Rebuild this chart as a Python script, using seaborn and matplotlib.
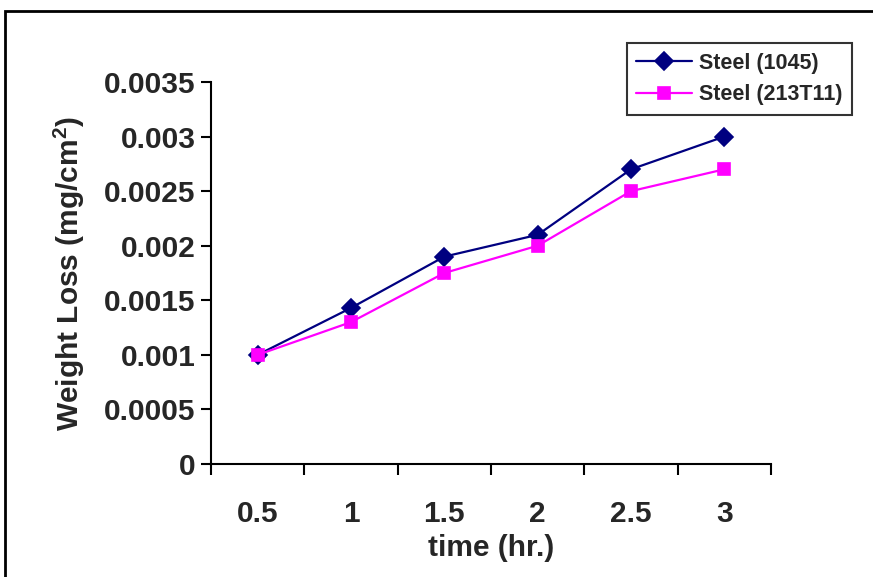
import pandas as pd
import numpy as np
import seaborn as sns
import matplotlib.pyplot as plt
from matplotlib.patches import Rectangle

# values
times = ["0.5", "1", "1.5", "2", "2.5", "3"]
steel_1045 = [0.0010, 0.00143, 0.0019, 0.0021, 0.0027, 0.0030]
steel_213t11 = [0.0010, 0.0013, 0.00175, 0.0020, 0.0025, 0.0027]
series_names = ["Steel (1045)", "Steel (213T11)"]
colors = ["#000080", "#FF00FF"]
markers = ["D", "s"]


def tidy_data():
    df = pd.DataFrame({"time": times,
                       series_names[0]: steel_1045,
                       series_names[1]: steel_213t11})
    return pd.melt(df, id_vars="time", var_name="Steel", value_name="Weight Loss")


sns.set_style("white")
plt.rcParams["font.family"] = ["Liberation Sans", "DejaVu Sans"]
plt.rcParams["font.weight"] = "bold"
plt.rcParams["mathtext.fontset"] = "custom"
plt.rcParams["mathtext.bf"] = "Liberation Sans:bold"
plt.rcParams["mathtext.rm"] = "Liberation Sans:bold"

fig = plt.figure(figsize=(8.73, 5.77), dpi=100)
ax = fig.add_axes([211 / 873, 1 - 464 / 577, 560 / 873, 382 / 577])

df = tidy_data()
sns.pointplot(data=df, x="time", y="Weight Loss", hue="Steel", order=times,
              hue_order=series_names, palette=colors, markers=markers,
              linestyles=["-", "-"], markersize=9, linewidth=1.6, ax=ax)

ax.set_xlim(-0.5, len(times) - 0.5)
ax.set_ylim(0, 0.0035)
ax.set_yticks(np.arange(0, 0.0036, 0.0005))
ax.set_yticklabels(["0", "0.0005", "0.001", "0.0015", "0.002", "0.0025", "0.003", "0.0035"])
ax.set_xticks(range(len(times)))
ax.set_xticklabels(times)
ax.set_xticks(np.arange(-0.5, len(times), 1.0), minor=True)

for s in ["top", "right"]:
    ax.spines[s].set_visible(False)
for s in ["left", "bottom"]:
    ax.spines[s].set_color("black")
    ax.spines[s].set_linewidth(1.5)

ax.tick_params(axis="y", which="major", direction="out", length=7, width=1.5,
               color="black", left=True, labelsize=21.5, pad=4)
ax.tick_params(axis="x", which="major", length=0, labelsize=21.5, pad=26)
ax.tick_params(axis="x", which="minor", direction="out", length=8, width=1.5,
               color="black", bottom=True)
for lbl in ax.get_xticklabels() + ax.get_yticklabels():
    lbl.set_fontweight("bold")

ax.set_xlabel("time (hr.)", fontsize=21.5, fontweight="bold", labelpad=4)
ax.set_ylabel(r"Weight Loss (mg/cm$\mathbf{^2}$)", fontsize=21.5,
              fontweight="bold", labelpad=12)
ax.grid(False)

handles, labels = ax.get_legend_handles_labels()
ax.legend_.remove()
leg = fig.legend(handles, labels, loc="upper right",
                 bbox_to_anchor=(852 / 873, 1 - 43 / 577), fontsize=15.5,
                 frameon=True, fancybox=False, edgecolor="black",
                 handlelength=2.6, borderpad=0.45, labelspacing=0.5,
                 handletextpad=0.3, borderaxespad=0)
leg.get_frame().set_linewidth(1.5)
for t in leg.get_texts():
    t.set_fontweight("bold")

# outer chart border (cut off on the right and bottom like the reference)
fig.patches.append(Rectangle((5 / 873, -0.1), 1.2, 0.1 + 1 - 11 / 577,
                             transform=fig.transFigure, fill=False,
                             edgecolor="black", linewidth=2))

fig.savefig("out.png", dpi=100)
